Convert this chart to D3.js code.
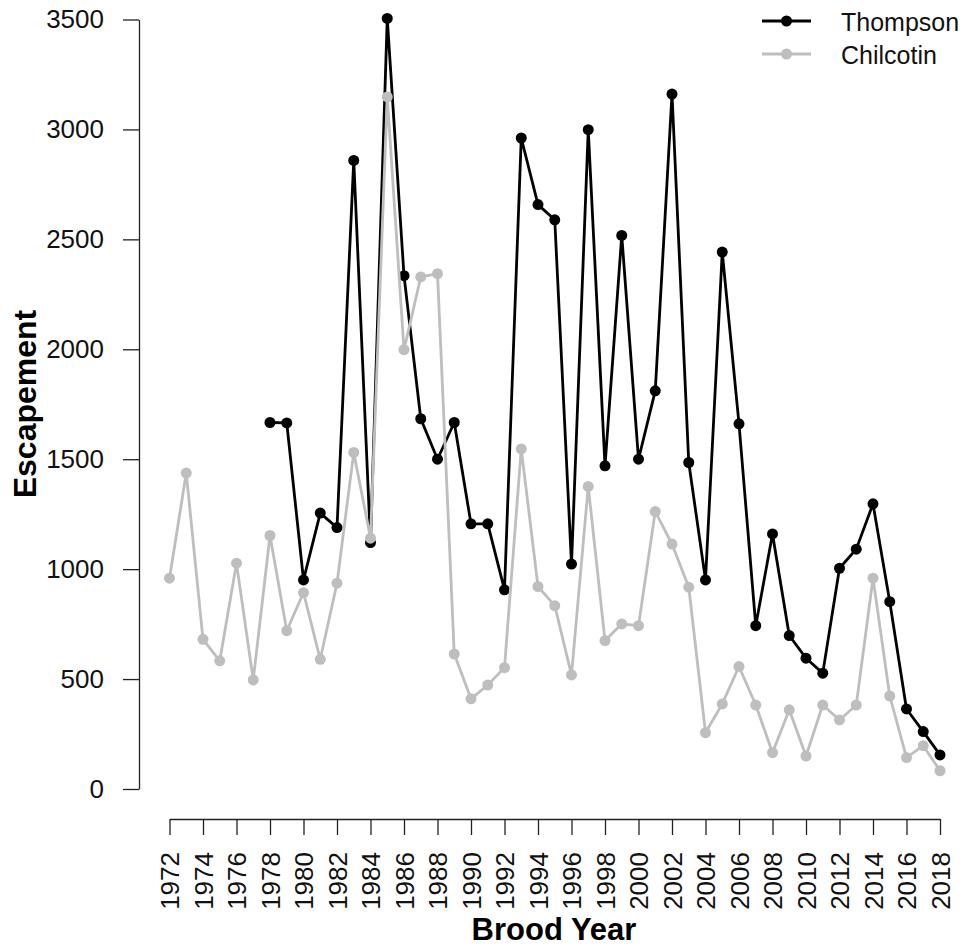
<!DOCTYPE html>
<html>
<head>
<meta charset="utf-8">
<script src="https://cdn.jsdelivr.net/npm/d3@7"></script>
<style>
  body { margin: 0; background: #fff; }
  svg { display: block; font-family: "Liberation Sans", Arial, sans-serif; }
</style>
</head>
<body>
<svg id="chart" width="962" height="947"></svg>
<script>
const years = d3.range(1972, 2019);
const thompson = [
  null, null, null, null, null, null,
  1667, 1665, 951, 1255, 1189, 2859, 1121, 3505, 2335, 1684, 1500, 1667, 1206, 1206,
  906, 2961, 2658, 2589, 1023, 2999, 1470, 2518, 1500, 1811, 3161, 1485, 951, 2442,
  1661, 743, 1160, 698, 595, 527, 1004, 1091, 1297, 852, 364, 261, 155
];
const chilcotin = [
  959, 1437, 681, 583, 1027, 496, 1153, 720, 893, 590, 936, 1531, 1141, 3148, 1998,
  2329, 2344, 614, 410, 473, 552, 1547, 921, 834, 519, 1376, 675, 751, 743, 1262,
  1114, 918, 256, 387, 557, 382, 165, 360, 150, 382, 314, 382, 959, 423, 143, 197, 83
];
const yTicks = [0, 500, 1000, 1500, 2000, 2500, 3000, 3500];
const xTicks = d3.range(1972, 2019, 2);
const seriesNames = ["Thompson", "Chilcotin"];
const seriesColors = ["#000000", "#bebebe"];

const svg = d3.select("#chart");

const x = d3.scaleLinear().domain([1972, 2018]).range([169.5, 940]);
const y = d3.scaleLinear().domain([0, 3500]).range([789, 19.5]);

// y axis
const yAxis = svg.append("g")
  .attr("transform", "translate(139,0)")
  .call(d3.axisLeft(y).tickValues(yTicks).tickFormat(d3.format("d"))
    .tickSize(16).tickPadding(19).tickSizeOuter(0));
yAxis.select(".domain").attr("stroke", "#222").attr("stroke-width", 1.3);
yAxis.selectAll(".tick line").attr("stroke", "#222").attr("stroke-width", 1.3);
yAxis.selectAll("text")
  .style("font-size", "26px")
  .style("font-family", "Liberation Sans, Arial, sans-serif")
  .attr("fill", "#111");

// x axis
const xAxis = svg.append("g")
  .attr("transform", "translate(0,819)")
  .call(d3.axisBottom(x).tickValues(xTicks).tickFormat(d3.format("d")).tickSize(16).tickSizeOuter(0));
xAxis.select(".domain").attr("stroke", "#222").attr("stroke-width", 1.3);
xAxis.selectAll(".tick line").attr("stroke", "#222").attr("stroke-width", 1.3);
xAxis.selectAll("text")
  .attr("transform", "rotate(-90)")
  .attr("x", -33)
  .attr("y", 0)
  .attr("dy", "0.36em")
  .attr("text-anchor", "end")
  .style("font-size", "26px")
  .style("font-family", "Liberation Sans, Arial, sans-serif")
  .attr("fill", "#111");

// axis titles
svg.append("text")
  .attr("x", 554)
  .attr("y", 940)
  .attr("text-anchor", "middle")
  .style("font-size", "31px")
  .style("font-weight", "bold")
  .text("Brood Year");

svg.append("text")
  .attr("transform", "translate(36,404) rotate(-90)")
  .attr("text-anchor", "middle")
  .style("font-size", "32px")
  .style("font-weight", "bold")
  .text("Escapement");

// series: Thompson first, Chilcotin drawn over it
const seriesData = [thompson, chilcotin];
const line = d3.line()
  .defined((d) => d.v != null)
  .x((d) => x(d.year))
  .y((d) => y(d.v));

seriesData.forEach((vals, i) => {
  const pts = years.map((yr, j) => ({ year: yr, v: vals[j] }));
  const g = svg.append("g");
  g.append("path")
    .datum(pts)
    .attr("fill", "none")
    .attr("stroke", seriesColors[i])
    .attr("stroke-width", 2.8)
    .attr("stroke-linejoin", "round")
    .attr("d", line);
  g.selectAll("circle")
    .data(pts.filter((d) => d.v != null))
    .enter()
    .append("circle")
    .attr("cx", (d) => x(d.year))
    .attr("cy", (d) => y(d.v))
    .attr("r", 5.5)
    .attr("fill", seriesColors[i]);
});

// legend
const legend = svg.append("g");
seriesNames.forEach((name, i) => {
  const ly = 21 + i * 33;
  legend.append("line")
    .attr("x1", 762).attr("x2", 811)
    .attr("y1", ly).attr("y2", ly)
    .attr("stroke", seriesColors[i])
    .attr("stroke-width", 2.8);
  legend.append("circle")
    .attr("cx", 786.5).attr("cy", ly).attr("r", 5.5)
    .attr("fill", seriesColors[i]);
  legend.append("text")
    .attr("x", 841)
    .attr("y", ly + 9.5)
    .style("font-size", "25px")
    .attr("fill", "#111")
    .text(name);
});
</script>
</body>
</html>
